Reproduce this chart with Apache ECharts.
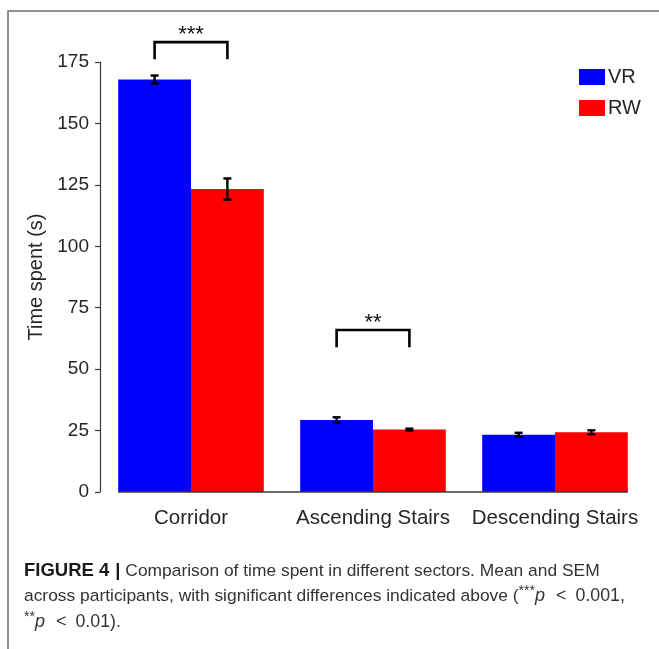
<!DOCTYPE html>
<html>
<head>
<meta charset="utf-8">
<script src="https://cdn.jsdelivr.net/npm/echarts@6/dist/echarts.min.js"></script>
<style>
  html, body { margin: 0; padding: 0; background: #fff; }
  #chart { width: 659px; height: 649px; }
</style>
</head>
<body>
<div id="chart"></div>
<script>
// Time spent per sector, mean and SEM across participants
const categories = ['Corridor', 'Ascending Stairs', 'Descending Stairs'];
const vrMean = [167.9, 29.3, 23.3];
const vrSem  = [1.6, 1.1, 0.8];
const rwMean = [123.3, 25.4, 24.3];
const rwSem  = [4.3, 0.4, 0.8];
const yMin = 0, yMax = 175, yStep = 25;

// Significance brackets: category, stars, bracket height (s)
const sigCategory = [0, 1];
const sigLabels = ['***', '**'];
const sigHeights = [183.1, 65.9];

const FONT = '"Liberation Sans", Arial, Helvetica, sans-serif';
const AXIS_COLOR = '#3a3a3a';
const TEXT_COLOR = '#262626';

const chart = echarts.init(document.getElementById('chart'), null, { renderer: 'canvas' });

// offset of each group member from the category centre, as a fraction of the band
const memberShift = [-0.2, 0.2];

function errorItem(params, api) {
  const cat = api.value(0), mean = api.value(1), sem = api.value(2), member = api.value(3);
  const band = api.size([1, 0])[0];
  const c = api.coord([cat, mean]);
  const x = c[0] + memberShift[member] * band;
  const yTop = api.coord([cat, mean + sem])[1];
  const yBot = api.coord([cat, mean - sem])[1];
  const cap = 4;
  const st = { stroke: '#000', lineWidth: 2.4 };
  return {
    type: 'group',
    children: [
      { type: 'line', shape: { x1: x, y1: yTop, x2: x, y2: yBot }, style: st },
      { type: 'line', shape: { x1: x - cap, y1: yTop, x2: x + cap, y2: yTop }, style: st },
      { type: 'line', shape: { x1: x - cap, y1: yBot, x2: x + cap, y2: yBot }, style: st }
    ]
  };
}

function bracketItem(params, api) {
  const cat = api.value(0), h = api.value(1);
  const band = api.size([1, 0])[0];
  const c = api.coord([cat, h]);
  const xl = c[0] + memberShift[0] * band;
  const xr = c[0] + memberShift[1] * band;
  const yLeg = api.coord([cat, h - 7])[1];
  const st = { stroke: '#000', lineWidth: 2.6, fill: null };
  return {
    type: 'group',
    children: [
      { type: 'polyline', shape: { points: [[xl, yLeg], [xl, c[1]], [xr, c[1]], [xr, yLeg]] }, style: st },
      { type: 'text', x: c[0], y: c[1] - 7,
        style: { text: sigLabels[params.dataIndex], font: '22px ' + FONT, fill: '#111',
                 textAlign: 'center', textVerticalAlign: 'middle' } }
    ]
  };
}

// zero baseline spanning the outer edges of the first and last bars
function baselineItem(params, api) {
  const band = api.size([1, 0])[0];
  const first = api.coord([0, 0]);
  const last = api.coord([categories.length - 1, 0]);
  return {
    type: 'line',
    shape: { x1: first[0] - 0.4 * band, y1: first[1], x2: last[0] + 0.4 * band, y2: last[1] },
    style: { stroke: AXIS_COLOR, lineWidth: 1.5 }
  };
}

const vrErr = categories.map((_, i) => [i, vrMean[i], vrSem[i], 0]);
const rwErr = categories.map((_, i) => [i, rwMean[i], rwSem[i], 1]);
const sigData = sigCategory.map((c, i) => [c, sigHeights[i]]);

const LH = 25.5;
const captionRich = {
  b:   { fontWeight: 'bold', fontSize: 18.5, fill: '#1a1a1a', fontFamily: FONT, lineHeight: LH },
  bar: { fontWeight: 'bold', fontSize: 18.5, fill: '#1a1a1a', fontFamily: FONT, lineHeight: LH, padding: [0, 0, 0, 6] },
  s:   { fontSize: 14, verticalAlign: 'top', fontFamily: FONT, lineHeight: LH, padding: [1, 0, 0, 0] },
  i:   { fontStyle: 'italic', fontSize: 18, fontFamily: FONT, lineHeight: LH },
  lt:  { fontSize: 18, fontFamily: FONT, lineHeight: LH, padding: [0, 9, 0, 11] },
  n:   { fontSize: 17.8, fontFamily: FONT, lineHeight: LH }
};

chart.setOption({
  backgroundColor: '#fff',
  animation: false,
  textStyle: { fontFamily: FONT },
  grid: { left: 100, top: 62, width: 546, height: 430, containLabel: false },
  legend: {
    data: ['VR', 'RW'],
    orient: 'vertical',
    left: 579, top: 67,
    padding: 0,
    icon: 'rect',
    itemWidth: 26, itemHeight: 16, itemGap: 11,
    textStyle: { fontSize: 20, color: TEXT_COLOR, fontFamily: FONT, padding: [0, 0, 0, -2] }
  },
  xAxis: {
    type: 'category',
    data: categories,
    axisLine: { show: false },
    axisTick: { show: false },
    axisLabel: { interval: 0, fontSize: 20.5, color: TEXT_COLOR, margin: 16, fontFamily: FONT }
  },
  yAxis: {
    type: 'value',
    min: yMin, max: yMax, interval: yStep,
    name: 'Time spent (s)',
    nameLocation: 'middle',
    nameGap: 43,
    nameTextStyle: { fontSize: 20, color: TEXT_COLOR, fontFamily: FONT },
    axisLine: { show: true, lineStyle: { color: AXIS_COLOR, width: 1.2 } },
    axisTick: { show: true, length: 5, lineStyle: { color: AXIS_COLOR, width: 1.2 } },
    axisLabel: { fontSize: 19, color: TEXT_COLOR, margin: 11, fontFamily: FONT },
    splitLine: { show: false }
  },
  series: [
    { name: 'VR', type: 'bar', data: vrMean, barGap: '0%', barCategoryGap: '20%',
      itemStyle: { color: '#0000ff' } },
    { name: 'RW', type: 'bar', data: rwMean, barGap: '0%', barCategoryGap: '20%',
      itemStyle: { color: '#ff0000' } },
    { type: 'custom', renderItem: baselineItem, data: [[0, 0]], z: 5, silent: true },
    { type: 'custom', renderItem: errorItem, data: vrErr, z: 6, silent: true },
    { type: 'custom', renderItem: errorItem, data: rwErr, z: 6, silent: true },
    { type: 'custom', renderItem: bracketItem, data: sigData, z: 6, silent: true, clip: false }
  ],
  graphic: [
    // figure frame
    { type: 'polyline', shape: { points: [[8, 649], [8, 11], [659, 11]] },
      style: { stroke: '#6e6e6e', lineWidth: 1.5, fill: null } },
    // caption
    { type: 'text', left: 24, top: 558,
      style: {
        text: '{b|FIGURE 4}{bar||} Comparison of time spent in different sectors. Mean and SEM\n' +
              'across participants, with significant differences indicated above ({s|***}{i|p}{lt|<}{n|0.001,}\n' +
              '{s|**}{i|p}{lt|<}{n|0.01).}',
        font: '17.4px ' + FONT, fill: '#333', lineHeight: LH,
        rich: captionRich
      } }
  ]
});
</script>
</body>
</html>
